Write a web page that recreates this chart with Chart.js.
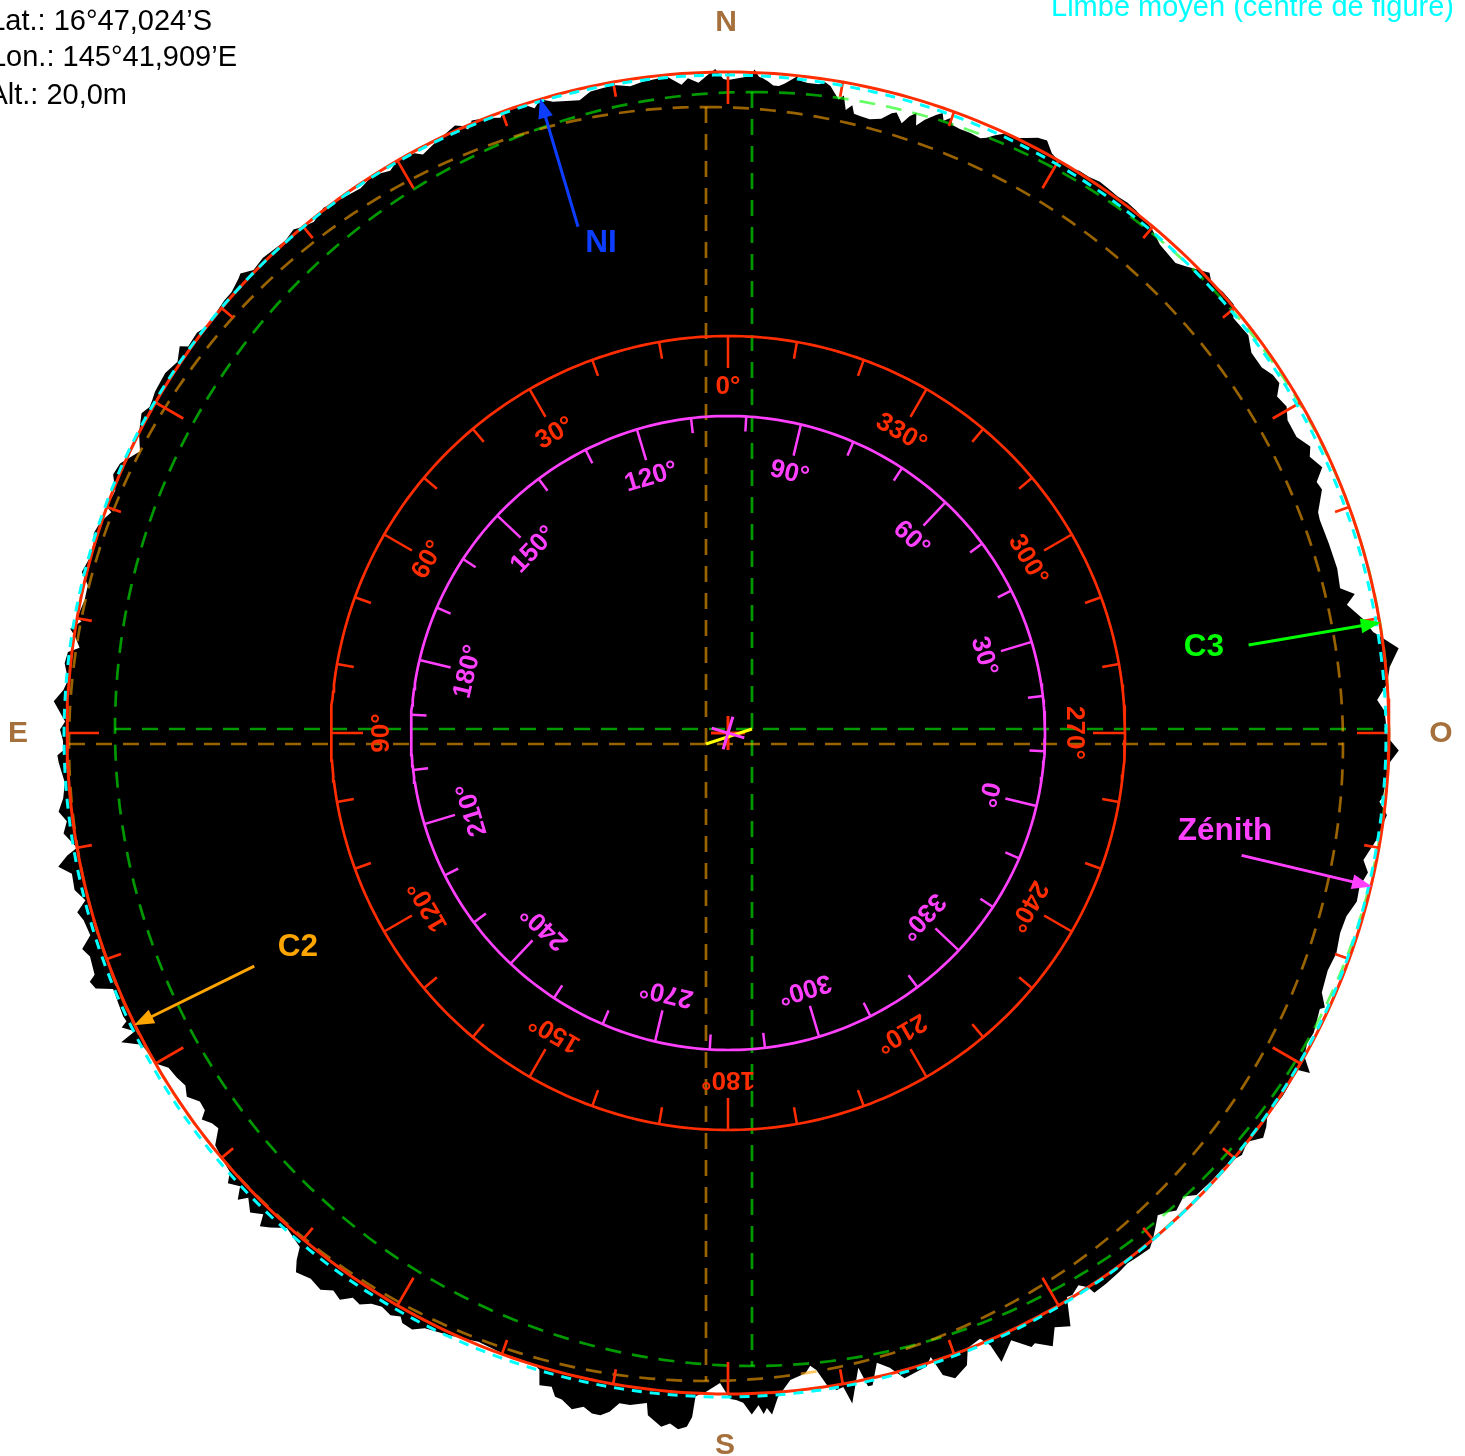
<!DOCTYPE html>
<html lang="fr">
<head>
    <meta charset="UTF-8">
    <title>Profil du limbe lunaire</title>
    <script src="https://cdn.jsdelivr.net/npm/chart.js"></script>
    <style>
        html, body { margin: 0; padding: 0; background: #fff; overflow: hidden; }
        #chartContainer { width: 1465px; height: 1456px; }
    </style>
</head>
<body>

<div id="chartContainer">
    <canvas id="limbCanvas" width="1465" height="1456"></canvas>
</div>

<script type="text/javascript">
    // Lunar limb profile: position angle (deg, clockwise on the page from N)
    const limbAngle = [
        0, 1, 1.9, 2.3, 2.7, 3, 3.5, 4, 4.5, 5, 6, 6.4, 7, 8, 8.5, 9, 9.9, 10.3, 10.7, 11.2, 11.5, 12, 13, 14, 14.8,
        15.2, 15.9, 16.4, 16.9, 17.2, 17.8, 18.6, 19.1, 19.4, 19.9, 20.3, 21, 22, 23, 23.5, 24, 25, 26, 26.7, 27.5, 28.3, 29.2, 30, 30.5,
        31, 32, 33, 34, 35, 36, 37, 38, 39, 40, 41.5, 43.6, 44.5, 46, 46.3, 47, 48.3, 49.7, 50.6, 52.6, 54, 55.6, 56.7, 57.6, 58.5, 59.7,
        60.8, 62.5, 63.8, 64.6, 65.9, 66.9, 67.7, 69.5, 70.2, 72.5, 74.9, 76.7, 77.5, 78.3, 79.8, 81.1, 82.8, 84.3, 85.7, 87.1, 88.1,
        90, 90.6, 91.5, 92.6, 95.6, 96, 97.1, 99.4, 101.3, 102.3, 103.7, 105, 106.5, 108.1, 109.9, 111.6, 113.6, 114.7, 115, 117.1, 118.2, 119.3,
        120.3, 120.6, 123.2, 125.3, 126.2, 127.1, 128.2, 129.4, 130.5, 131.5, 132.7, 134.6, 135.5, 136.8, 137.5, 138.3, 139.2, 140, 140.7,
        142, 143, 144, 145.5, 146.8, 147, 147.6, 148.5, 149, 150, 151.2, 152.1, 153.3, 153.7, 155, 156.5, 156.8, 157.4, 158.7, 159.3,
        160.6, 161.5, 162, 162.6, 164.7, 165.7, 166.7, 167.5, 167.9, 168.4, 169.5, 170, 170.6, 171.4, 172.1, 172.6, 173.1, 174.5, 175.7, 176.3, 176.7, 177, 177.4, 178, 178.7, 179.3, 179.8,
        180.2, 180.7, 181.9, 182.8, 183, 183.4, 184.1, 184.8, 185.5, 186.7, 186.9, 188.3, 189.2, 189.9, 190.6, 191.3, 192.1, 193, 194, 194.6, 195.1, 196.1, 196.5, 197, 198,
        200, 202.3, 203.6, 205, 207, 207.9, 208.9, 209.3, 210.1, 211.1, 212, 212.8, 213.6, 214.4, 215.3, 216.2, 217.4, 218.7, 219.3, 219.8,
        221.7, 222.8, 223.5, 224, 224.9, 225.9, 226.4, 227.1, 228, 228.6, 230, 231.2, 232.2, 232.9, 233.7, 234.2, 235.1, 236.1, 237, 238, 239.1,
        240, 241, 242, 243, 243.3, 244.1, 244.4, 244.9, 246, 247.4, 248, 248.7, 249.1, 250.7, 251.5, 252.4, 253.8, 254.6, 255.4, 256.5, 257.9, 258.7, 259.5,
        260, 261.4, 262.4, 263.3, 264.4, 265.7, 267.5, 268.1, 268.5, 269.3, 270.3, 271, 272.7, 273.7, 274.6, 276, 277, 277.5, 278.4, 279, 279.8,
        280, 281.7, 283, 284, 285.3, 286.6, 287.5, 288.6, 289.7, 290, 291.6, 292.8, 293.9, 295.6, 297, 298.6, 299.4,
        300, 300.8, 302.6, 304, 305.2, 305.6, 307, 308, 309, 310.7, 311.6, 312.9, 313.3, 314.3, 315.6, 316.3, 318, 319.2,
        320, 321, 322.4, 323.7, 326, 327.4, 328.1, 329, 330, 331.6, 332.2, 333.6, 335.8, 336.3, 336.7, 337.3, 338.5, 339.7,
        340.2, 342.2, 342.8, 343.5, 344.5, 346.8, 347.9, 350, 351.4, 352.6, 354.7, 355.9, 356.5, 357.4, 358.2, 358.9, 359.6
    ];
    // Limb height relative to the red reference circle, same order as limbAngle
    const limbHeight = [
        -8, -6, -4, 3, -4, -5, -8, -12, -12, -9, -1, -5, -6, -6, -3, -6, -18, -13, -27, -21, -29, -30, -31, -28, -20,
        -18, -27, -18, -13, -25, -17, -9, -5, -12, -7, -13, -14, -14, -15, -12, -7, 1, 1, 5, 10, 12, 3, 0, 0,
        -1, 2, 2, 4, 3, 2, 3, 2, 0, -2, -9, -12, -7, 3, 5, 0, 2, 2, -7, -6, -14, -14, -9, -8, -17, -14,
        -20, -20, -12, -17, -10, -21, -19, -31, -32, -31, -30, -32, -19, -29, -16, -8, 15, 4, 0, -11, -4,
        -2, 1, 10, 1, -3, -6, 3, -4, -13, -6, -11, -10, -16, -17, -14, -16, -13, -4, -8, -3, -4, 0,
        13, 1, 2, 0, 6, 10, 0, 4, -1, -2, -2, -3, -11, -6, -11, -15, -7, 0, 5,
        4, 3, 5, 7, 8, 0, -7, -2, -3, 24, 17, 33, 22, 24, 9, 25, 5, -5, -1, 15,
        23, 16, -5, 3, 8, -6, -14, 7, 7, -13, 21, 3, 5, -2, -18, -23, -16, -11, 5, 22, 15, 21, 12, 21, 9, 6, 5,
        -2, -11, -2, 3, 24, 34, 37, 32, 36, 26, 14, 18, 18, 28, 33, 33, 28, 33, 26, 25, 16, 18, 3, 0, -1,
        -1, -3, 0, 3, 7, 14, 13, 8, 12, 9, 12, 19, 17, 26, 22, 29, 26, 30, 20, 8,
        2, 13, 19, 8, 16, 7, 16, 5, 12, 3, 0, -3, -16, -14, -8, -16, -17, -9, -14, -11, -9,
        0, 1, 3, 20, 3, 13, 6, 7, 6, 5, 21, 24, 17, 15, 20, 8, 10, 14, 3, 11, 10, 22, 11,
        0, 11, 6, 13, 7, 4, 9, 10, 4, 4, 7, 2, 14, 5, 1, 6, 4, -7, -1, 5, -5,
        0, -4, -4, 5, 1, 1, 4, 1, -6, 0, -2, 6, 4, -9, 0, 7, 3,
        4, 6, 7, 3, 10, 3, 4, 0, 1, 3, 3, 7, 9, 2, 4, 3, 1, 4,
        0, -3, 2, -1, -4, 0, -2, -5, 0, -2, -7, -2, 5, 2, -4, 3, 0, -5,
        0, -2, -7, 0, -6, -11, -5, -3, -7, -4, -2, -11, -5, -10, -3, 3, -7
    ];

    // Graduations, in degrees
    const gradAngles = [0, 10, 20, 30, 40, 50, 60, 70, 80, 90, 100, 110, 120, 130, 140, 150, 160, 170,
        180, 190, 200, 210, 220, 230, 240, 250, 260, 270, 280, 290, 300, 310, 320, 330, 340, 350];
    const redLabels = [0, 30, 60, 90, 120, 150, 180, 210, 240, 270, 300, 330];
    const magentaLabels = [0, 30, 60, 90, 120, 150, 180, 210, 240, 270, 300, 330];

    // Named directions, position angle on the page
    const arrowNames = ['NI', 'C3', 'Zénith', 'C2'];
    const arrowAngles = [343.5, 80.4, 103.4, 243.8];
    const arrowColors = ['#0d3dff', '#00ff00', '#ff40ff', '#ffa500'];

    const infoLines = ['Lat.: 16°47,024’S', 'Lon.: 145°41,909’E', 'Alt.: 20,0m'];

    const RED = '#ff2d00';
    const MAGENTA = '#ff40ff';
    const BROWN = '#a5703c';
    const GREEN_DASH = 'rgba(0, 255, 0, 0.6)';
    const ORANGE_DASH = 'rgba(255, 165, 0, 0.6)';
    const FONT = '"Liberation Sans", Arial, sans-serif';

    const RIM_R = 661, INNER_R = 397, MAG_R = 317;
    const MAG_OFFSET = 103.3; // the magenta scale is turned with respect to the red one
    const greenC = { x: 24, y: 4, r: 637 };
    const brownC = { x: -22, y: -11, r: 637 };
    const cyanC = { x: -3, y: -3, r: 661 };

    function polar(angle, r, c) {
        const a = angle * Math.PI / 180;
        return { x: (c ? c.x : 0) + r * Math.sin(a), y: (c ? c.y : 0) + r * Math.cos(a) };
    }

    function circle(c, r) {
        const pts = [];
        for (let a = 0; a <= 360; a += 1) pts.push(polar(a, r, c));
        return pts;
    }

    // tick segments separated by gaps, ticks point to the centre
    // the scales run counter-clockwise on the page
    function ticks(r, major, minor, offset) {
        const pts = [];
        gradAngles.forEach(a => {
            const len = a % 30 === 0 ? major : minor;
            pts.push(polar(offset - a, r), polar(offset - a, r - len), { x: NaN, y: NaN });
        });
        return pts;
    }

    function crossLines(size, turn) {
        return [polar(turn, size), polar(turn + 180, size), { x: NaN, y: NaN },
            polar(turn + 90, size), polar(turn + 270, size)];
    }

    function line(data, color, width, dash) {
        return {
            data: data, borderColor: color, borderWidth: width, borderDash: dash || [],
            showLine: true, pointRadius: 0, tension: 0, fill: false, spanGaps: false
        };
    }

    function arrowHead(angle) {
        const tip = polar(angle, 662);
        const back = polar(angle, 642);
        const a = angle * Math.PI / 180;
        const w = 7.5;
        return [tip,
            { x: back.x + w * Math.cos(a), y: back.y - w * Math.sin(a) },
            { x: back.x - w * Math.cos(a), y: back.y + w * Math.sin(a) }];
    }

    // bottom to top
    const layers = [
        {
            data: limbAngle.map((a, i) => polar(a, RIM_R + limbHeight[i])),
            backgroundColor: '#000', borderWidth: 0, showLine: true, pointRadius: 0, tension: 0, fill: 'shape'
        },
        line(circle(greenC, greenC.r), GREEN_DASH, 2.7, [16, 11]),
        line([{ x: greenC.x, y: greenC.y + greenC.r }, { x: greenC.x, y: greenC.y - greenC.r }], GREEN_DASH, 2.7, [16, 11]),
        line([{ x: greenC.x - greenC.r, y: greenC.y }, { x: greenC.x + greenC.r, y: greenC.y }], GREEN_DASH, 2.7, [16, 11]),
        line(circle(brownC, brownC.r), ORANGE_DASH, 2.7, [16, 11]),
        line([{ x: brownC.x, y: brownC.y + brownC.r }, { x: brownC.x, y: brownC.y - brownC.r }], ORANGE_DASH, 2.7, [16, 11]),
        line([{ x: brownC.x - brownC.r, y: brownC.y }, { x: brownC.x + brownC.r, y: brownC.y }], ORANGE_DASH, 2.7, [16, 11]),
        line(circle(null, RIM_R), RED, 3),
        line(ticks(RIM_R, 32, 15, 0), RED, 2.7),
        line(circle(cyanC, cyanC.r), '#00ffff', 3, [10, 8]),
        line(circle(null, INNER_R), RED, 2.7),
        line(ticks(INNER_R, 32, 17, 0), RED, 2.5),
        line(circle(null, MAG_R), MAGENTA, 2.7),
        line(ticks(MAG_R, 32, 15, MAG_OFFSET), MAGENTA, 2.5),
        line(crossLines(17, 0), RED, 3),
        line([{ x: brownC.x, y: brownC.y }, { x: greenC.x, y: greenC.y }], '#ffff00', 3),
        line(crossLines(17, 16.7), MAGENTA, 3)
    ];
    arrowAngles.forEach((a, i) => {
        layers.push(line([polar(a, 528), polar(a, 650)], arrowColors[i], 3));
        layers.push({
            data: arrowHead(a), backgroundColor: arrowColors[i], borderWidth: 0,
            showLine: true, pointRadius: 0, tension: 0, fill: 'shape'
        });
    });

    // Texts, drawn on the canvas at scale positions
    const textPlugin = {
        id: 'limbTexts',
        afterDatasetsDraw(chart) {
            const ctx = chart.ctx;
            const px = v => chart.scales.x.getPixelForValue(v);
            const py = v => chart.scales.y.getPixelForValue(v);

            function put(text, x, y, font, color, align, rot, base) {
                ctx.save();
                ctx.translate(px(x), py(y));
                ctx.rotate(rot || 0);
                ctx.font = font;
                ctx.fillStyle = color;
                ctx.textAlign = align || 'center';
                ctx.textBaseline = base || 'middle';
                ctx.fillText(text, 0, 0);
                ctx.restore();
            }

            const tickFont = 'bold 26px ' + FONT;
            redLabels.forEach(v => {
                const p = polar(-v, 346);
                put(v + '°', p.x, p.y, tickFont, RED, 'center', -v * Math.PI / 180);
            });
            magentaLabels.forEach(v => {
                const turn = v - MAG_OFFSET;
                const p = polar(-turn, 267);
                put(v + '°', p.x, p.y, tickFont, MAGENTA, 'center', -turn * Math.PI / 180);
            });

            const capFont = 'bold 30px ' + FONT;
            put('N', -2, 710, capFont, BROWN);
            put('S', -3, -713, capFont, BROWN);
            put('E', -710, -1, capFont, BROWN);
            put('O', 713, -1, capFont, BROWN);

            const nameFont = 'bold 31.5px ' + FONT;
            put(arrowNames[0], -127, 490, nameFont, arrowColors[0]);
            put(arrowNames[1], 476, 86, nameFont, arrowColors[1]);
            put(arrowNames[2], 497, -98, nameFont, arrowColors[2]);
            put(arrowNames[3], -430, -214, nameFont, arrowColors[3]);

            const infoFont = '29px ' + FONT;
            put(infoLines[0], -516, 703, infoFont, '#000', 'right', 0, 'alphabetic');
            put(infoLines[1], -491, 667, infoFont, '#000', 'right', 0, 'alphabetic');
            put(infoLines[2], -601, 629, infoFont, '#000', 'right', 0, 'alphabetic');

            put('Limbe moyen (centre de figure)', 726, 717, '29px ' + FONT, '#00ffff', 'right', 0, 'alphabetic');
        }
    };

    new Chart(document.getElementById('limbCanvas').getContext('2d'), {
        type: 'scatter',
        data: { datasets: layers.reverse() }, // chart.js paints the first dataset last
        options: {
            responsive: false,
            animation: false,
            devicePixelRatio: 1,
            layout: { padding: 0 },
            events: [],
            scales: {
                x: { type: 'linear', min: -728, max: 737, display: false },
                y: { type: 'linear', min: -723, max: 733, display: false }
            },
            plugins: {
                legend: { display: false },
                tooltip: { enabled: false },
                filler: { drawTime: 'beforeDatasetDraw' }
            }
        },
        plugins: [textPlugin]
    });
</script>

</body>
</html>
